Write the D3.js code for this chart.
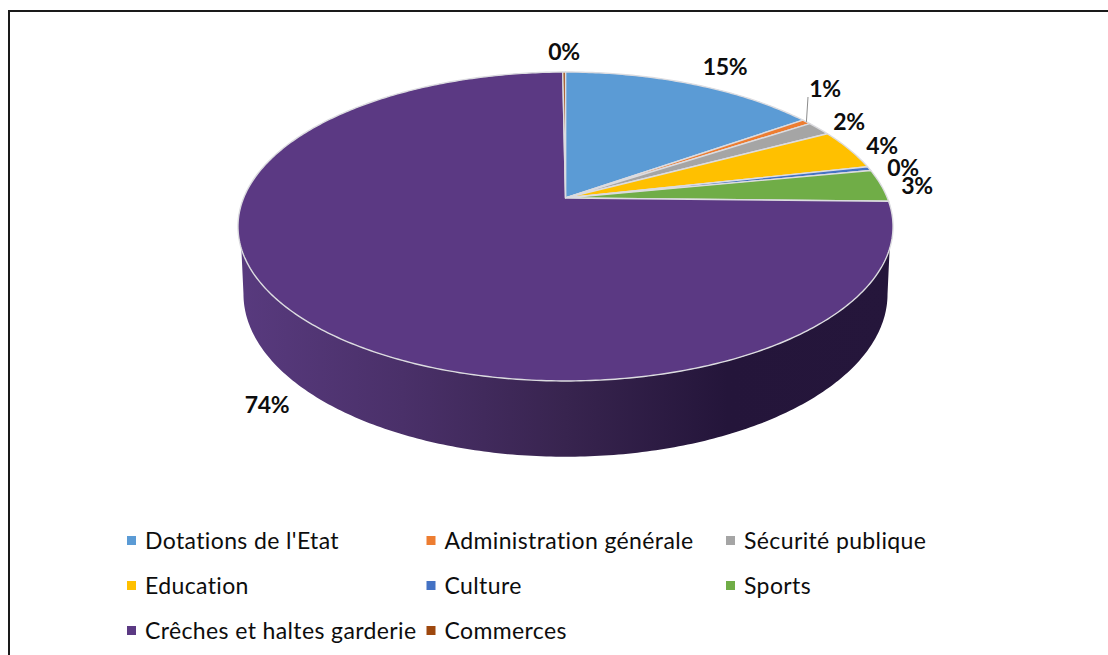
<!DOCTYPE html>
<html lang="fr">
<head>
<meta charset="utf-8">
<title>Répartition par secteur</title>
<script src="https://cdn.jsdelivr.net/npm/d3@7/dist/d3.min.js"></script>
<style>
  html, body { margin: 0; padding: 0; background: #fff; overflow: hidden; }
  svg { display: block; }
  text { font-family: Lato, "Noto Sans", sans-serif; fill: #0d0d0d; }
  .legend text { font-size: 23px; letter-spacing: 0.38px; }
  .value { font-size: 23px; font-weight: 700; text-anchor: middle; letter-spacing: -0.3px; }
</style>
</head>
<body>
<svg id="chart" width="1108" height="655"></svg>
<script>
// Share of each sector, in percent
const categories = ["Dotations de l'Etat", "Administration générale", "Sécurité publique",
  "Education", "Culture", "Sports", "Crêches et haltes garderie", "Commerces"];
const shares = [15.2, 0.55, 1.5, 4.25, 0.45, 3.4, 74.49, 0.16];
const shareLabels = ["15%", "1%", "2%", "4%", "0%", "3%", "74%", "0%"];
const sliceColors = ["#5b9bd5", "#ed7d31", "#a5a5a5", "#ffc000", "#4472c4", "#70ad47", "#5b3983", "#9e480e"];

// Where each percentage label sits on the page, in the order of the categories
const labelX = [725, 825, 849, 882, 903, 917, 267, 564];
const labelY = [67, 89, 122, 146, 168, 186, 405, 52];

const W = 1108, H = 655;
const svg = d3.select("#chart");
const color = d3.scaleOrdinal().domain(categories).range(sliceColors);

// Perspective view of a flat disc: the far edge shrinks by the factor "k"
const k = 0.1845;
const topFace = { cx: 565.5, cy: 198, a: 321.9, b: 149.2 };
const floorFace = { cx: 565.5, cy: 264, a: 316.5, b: 157.2 };
const project = (face, angle) => {
  const s = Math.sin(angle), c = Math.cos(angle), w = 1 + k * c;
  return [face.cx + face.a * s / w, face.cy - face.b * c / w];
};
const arcPoints = (face, from, to) =>
  d3.range(0, 1.0001, 1 / Math.max(2, Math.ceil((to - from) * 80)))
    .map(t => project(face, from + (to - from) * t));

const line = d3.line();
const pie = d3.pie().value(d => d).sort(null);
const slices = pie(shares);

// Page frame
svg.append("path")
  .attr("d", line([[9, 655], [9, 11], [W, 11]]))
  .attr("fill", "none").attr("stroke", "#1a1a1a").attr("stroke-width", 2);

// Shading of the side wall, lit from the left
const grad = svg.append("defs").append("linearGradient")
  .attr("id", "wall").attr("gradientUnits", "userSpaceOnUse")
  .attr("x1", 240).attr("x2", 890).attr("y1", 0).attr("y2", 0);
[[0, "#583a7e"], [0.25, "#4a3069"], [0.5, "#38244f"], [0.75, "#24153a"], [1, "#25163b"]]
  .forEach(([o, c]) => grad.append("stop").attr("offset", o).attr("stop-color", c));

// Side wall: visible front part of the rim, between the two widest points
const rad = d => d * Math.PI / 180;
const wallStart = Math.PI - Math.asin(Math.sqrt(1 - k * k)), wallEnd = 2 * Math.PI - wallStart;
const wallOutline = arcPoints(floorFace, wallStart, wallEnd)
  .concat(arcPoints(topFace, wallStart + rad(8), wallEnd - rad(8)).reverse());
svg.append("path")
  .attr("d", line(wallOutline) + "Z")
  .attr("fill", "url(#wall)");

// Top face
const apex = [topFace.cx, topFace.cy];
svg.append("g").selectAll("path").data(slices).join("path")
  .attr("d", d => line([apex, ...arcPoints(topFace, d.startAngle, d.endAngle)]) + "Z")
  .attr("fill", (d, i) => color(categories[i]))
  .attr("stroke", "#dcdce0").attr("stroke-width", 1.4).attr("stroke-linejoin", "round");

// Leader line of the small "1%" slice
const adminMid = (slices[1].startAngle + slices[1].endAngle) / 2;
svg.append("path")
  .attr("d", line([project(topFace, adminMid), [808, 97]]))
  .attr("stroke", "#8c8c8c").attr("stroke-width", 1).attr("fill", "none");

// Percentage labels
svg.append("g").selectAll("text").data(shareLabels).join("text")
  .attr("class", "value")
  .attr("x", (d, i) => labelX[i]).attr("y", (d, i) => labelY[i])
  .attr("dy", "0.35em")
  .text(d => d);

// Legend: three columns, filled row by row
const columnX = d3.scalePoint().domain([0, 1, 2]).range([127, 726]);
const rowY = d3.scalePoint().domain([0, 1, 2]).range([541, 631]);
const entry = svg.append("g").attr("class", "legend").selectAll("g").data(categories).join("g")
  .attr("transform", (d, i) => `translate(${columnX(i % 3)},${rowY(Math.floor(i / 3))})`);
entry.append("rect").attr("x", 0).attr("y", -5).attr("width", 9).attr("height", 9)
  .attr("fill", d => color(d));
entry.append("text").attr("x", 18).attr("dy", "0.35em").text(d => d);
</script>
</body>
</html>
